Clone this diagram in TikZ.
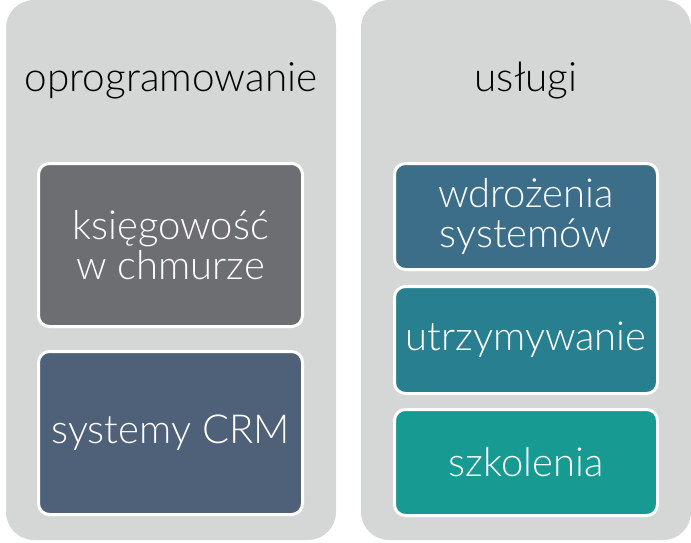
\documentclass[tikz,border=0pt]{standalone}
\usepackage{fontspec}
\setmainfont{Lato}[UprightFont={* Light}]
\definecolor{panelgray}{HTML}{D5D6D6}
\definecolor{cA}{HTML}{6D6E72}
\definecolor{cB}{HTML}{4F6079}
\definecolor{cC}{HTML}{3C6E8A}
\definecolor{cD}{HTML}{287F8F}
\definecolor{cE}{HTML}{169A92}
\tikzset{
  panel/.style={fill=panelgray, rounded corners=28pt, minimum width=330pt, minimum height=540pt, inner sep=0pt},
  title/.style={font=\fontsize{40.5}{40}\selectfont, text=black, anchor=base},
  box/.style={draw=white, line width=3pt, rounded corners=11pt, text=white, align=center,
    font=\fontsize{40}{40}\selectfont, inner sep=0pt},
}
\begin{document}
\begin{tikzpicture}[x=1pt,y=-1pt]
\useasboundingbox (0,0) rectangle (691,543);
\node[panel] (left) at (171,270) {};
\node[panel] (right) at (526,270) {};
\node[title] (t1) at (171,92) {oprogramowanie};
\node[title] (t2) at (526,92) {usługi};
\node[box, fill=cA, minimum width=264pt, minimum height=163pt] (b1) at (170.5,245) {księgowość\\w chmurze};
\node[box, fill=cB, minimum width=264pt, minimum height=163pt] (b2) at (170.5,433) {systemy CRM};
\node[box, fill=cC, minimum width=263pt, minimum height=106pt] (b3) at (526,216.5) {wdrożenia\\systemów};
\node[box, fill=cD, minimum width=263pt, minimum height=107pt] (b4) at (526,340) {utrzymywanie};
\node[box, fill=cE, minimum width=263pt, minimum height=106pt] (b5) at (526,462.5) {szkolenia};
\end{tikzpicture}
\end{document}
